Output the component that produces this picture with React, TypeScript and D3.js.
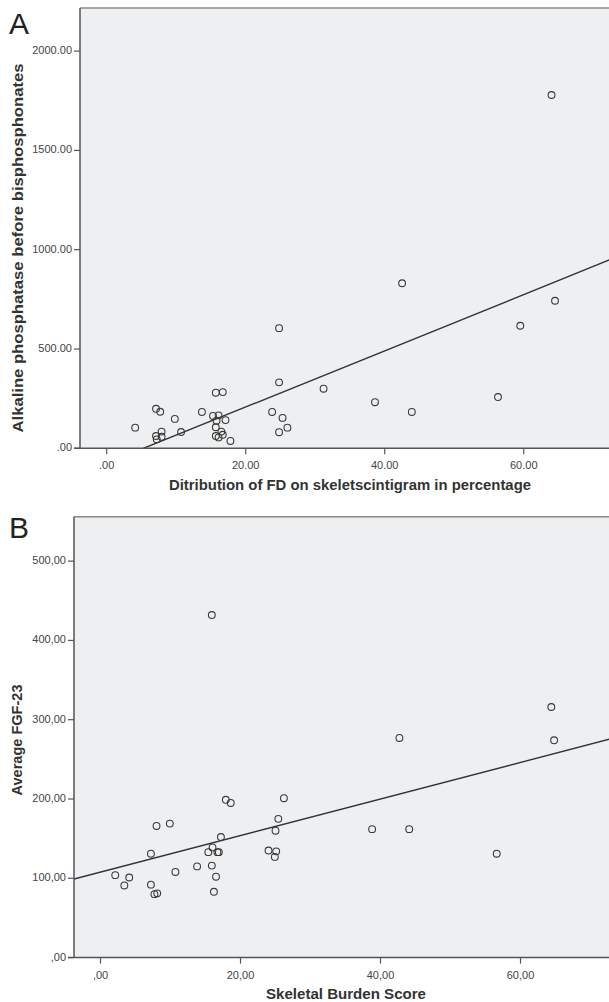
import React from "react";
import * as d3 from "d3";

// ---------- Data ----------
// Panel A: distribution of FD (%) vs alkaline phosphatase
const A_X = [4.1, 7.1, 7.7, 7.1, 7.9, 7.9, 7.2, 9.8, 10.7, 13.7, 15.7, 16.7, 15.3, 16.1, 15.8, 17.1, 15.7, 16.5, 16.7, 15.7, 16.1, 17.8, 23.8, 24.8, 25.3, 26.0, 24.8, 31.2, 24.8, 38.6, 43.9, 42.5, 56.3, 59.5, 64.5, 64.0];
const A_Y = [104, 199, 184, 62, 84, 58, 45, 148, 82, 183, 280, 283, 163, 166, 139, 142, 106, 84, 68, 62, 55, 37, 183, 332, 153, 104, 81, 300, 605, 232, 183, 831, 258, 617, 743, 1779];
const A_FIT = [-75, 14.15]; // intercept, slope
const A_XTICKS = [0, 20, 40, 60];
const A_YTICKS = [0, 500, 1000, 1500, 2000];

// Panel B: skeletal burden score vs average FGF-23
const B_X = [15.9, 17.9, 18.6, 26.2, 25.4, 25.0, 24.0, 25.1, 24.9, 8.0, 9.9, 7.2, 2.1, 3.4, 4.1, 7.2, 7.7, 8.1, 10.7, 13.8, 15.9, 15.4, 16.0, 16.7, 16.9, 17.2, 16.5, 16.2, 42.7, 64.4, 64.8, 38.8, 44.1, 56.6];
const B_Y = [432, 199, 195, 201, 175, 160, 135, 134, 127, 166, 169, 131, 104, 91, 101, 92, 80, 81, 108, 115, 116, 133, 139, 133, 133, 152, 102, 83, 277, 316, 274, 162, 162, 131];
const B_FIT = [107.8, 2.305];
const B_XTICKS = [0, 20, 40, 60];
const B_YTICKS = [0, 100, 200, 300, 400, 500];

const FONT = "'Liberation Sans', Arial, Helvetica, sans-serif";

const fmtDot = (v: number) => {
  const s = v.toFixed(2);
  return s.startsWith("0") ? s.slice(1) : s;
};
const fmtComma = (v: number) => fmtDot(v).replace(".", ",");

type PanelProps = {
  id: string;
  letter: string;
  letterY: number;
  xs: number[];
  ys: number[];
  fit: number[];
  xTicks: number[];
  yTicks: number[];
  fmt: (v: number) => string;
  xDomain: [number, number];
  xRange: [number, number];
  yDomain: [number, number];
  yRange: [number, number];
  xTitle: string;
  xTitleCenter: number;
  xTitleLen: number;
  yTitle: string;
  yTitleX: number;
  yTitleCenter: number;
  yTitleLen: number;
};

function Panel(p: PanelProps) {
  const x = d3.scaleLinear().domain(p.xDomain).range(p.xRange);
  const y = d3.scaleLinear().domain(p.yDomain).range(p.yRange);
  const [x0, x1] = p.xRange;
  const [yb, yt] = p.yRange;
  const line = d3
    .line<number>()
    .x((d) => x(d))
    .y((d) => y(p.fit[0] + p.fit[1] * d));
  const fitPath = line([p.xDomain[0], p.xDomain[1]]) || "";
  const clipId = "clip" + p.id;
  const axisColor = "#555";
  const textColor = "#444";
  return (
    <g>
      <defs>
        <clipPath id={clipId}>
          <rect x={x0} y={yt} width={x1 - x0} height={yb - yt} />
        </clipPath>
      </defs>
      <text x={9} y={p.letterY} fontFamily={FONT} fontSize={30} fill="#222">
        {p.letter}
      </text>
      <rect x={x0} y={yt} width={x1 - x0} height={yb - yt} fill="#eeeff1" />
      <line x1={x0} x2={x1} y1={yt} y2={yt} stroke="#888" strokeWidth={1.5} />
      <g clipPath={`url(#${clipId})`}>
        <path d={fitPath} fill="none" stroke="#333" strokeWidth={1.4} />
        {p.xs.map((xv, i) => (
          <circle
            key={i}
            cx={x(xv)}
            cy={y(p.ys[i])}
            r={3.4}
            fill="none"
            stroke="#3a3a3a"
            strokeWidth={1.1}
          />
        ))}
      </g>
      <line x1={x0} x2={x0} y1={yt} y2={yb} stroke={axisColor} strokeWidth={1.5} />
      <line x1={x0 - 6} x2={x1} y1={yb} y2={yb} stroke={axisColor} strokeWidth={1.5} />
      {p.yTicks.map((t) => (
        <g key={"y" + t}>
          <line x1={x0 - 6} x2={x0} y1={y(t)} y2={y(t)} stroke={axisColor} strokeWidth={1.2} />
          <text
            x={x0 - 8}
            y={y(t)}
            textAnchor="end"
            dominantBaseline="middle"
            fontFamily={FONT}
            fontSize={11}
            fill={textColor}
          >
            {p.fmt(t)}
          </text>
        </g>
      ))}
      {p.xTicks.map((t) => (
        <g key={"x" + t}>
          <line x1={x(t)} x2={x(t)} y1={yb} y2={yb + 6} stroke={axisColor} strokeWidth={1.2} />
          <text
            x={x(t)}
            y={yb + 18}
            textAnchor="middle"
            dominantBaseline="middle"
            fontFamily={FONT}
            fontSize={11}
            fill={textColor}
          >
            {p.fmt(t)}
          </text>
        </g>
      ))}
      <text
        x={p.xTitleCenter}
        y={yb + 38}
        textAnchor="middle"
        dominantBaseline="middle"
        fontFamily={FONT}
        fontSize={14.5}
        fontWeight="bold"
        fill="#333"
        textLength={p.xTitleLen}
        lengthAdjust="spacingAndGlyphs"
      >
        {p.xTitle}
      </text>
      <text
        transform={`translate(${p.yTitleX},${p.yTitleCenter}) rotate(-90)`}
        textAnchor="middle"
        dominantBaseline="middle"
        fontFamily={FONT}
        fontSize={14}
        fontWeight="bold"
        fill="#333"
        textLength={p.yTitleLen}
        lengthAdjust="spacingAndGlyphs"
      >
        {p.yTitle}
      </text>
    </g>
  );
}

export default function App() {
  return (
    <svg
      width={609}
      height={1002}
      style={{ position: "absolute", left: 0, top: 0, background: "#fff" }}
    >
      <Panel
        id="A"
        letter="A"
        letterY={34}
        xs={A_X}
        ys={A_Y}
        fit={A_FIT}
        xTicks={A_XTICKS}
        yTicks={A_YTICKS}
        fmt={fmtDot}
        xDomain={[-3.84, 75]}
        xRange={[80, 628]}
        yDomain={[0, 2217]}
        yRange={[448.3, 8]}
        xTitle="Ditribution of FD on skeletscintigram in percentage"
        xTitleCenter={350}
        xTitleLen={362}
        yTitle="Alkaline phosphatase before bisphosphonates"
        yTitleX={19.5}
        yTitleCenter={248}
        yTitleLen={369}
      />
      <Panel
        id="B"
        letter="B"
        letterY={538}
        xs={B_X}
        ys={B_Y}
        fit={B_FIT}
        xTicks={B_XTICKS}
        yTicks={B_YTICKS}
        fmt={fmtComma}
        xDomain={[-3.79, 75]}
        xRange={[74, 625.5]}
        yDomain={[0, 556]}
        yRange={[957.6, 516.7]}
        xTitle="Skeletal Burden Score"
        xTitleCenter={346}
        xTitleLen={160}
        yTitle="Average FGF-23"
        yTitleX={18.5}
        yTitleCenter={740}
        yTitleLen={111}
      />
    </svg>
  );
}
